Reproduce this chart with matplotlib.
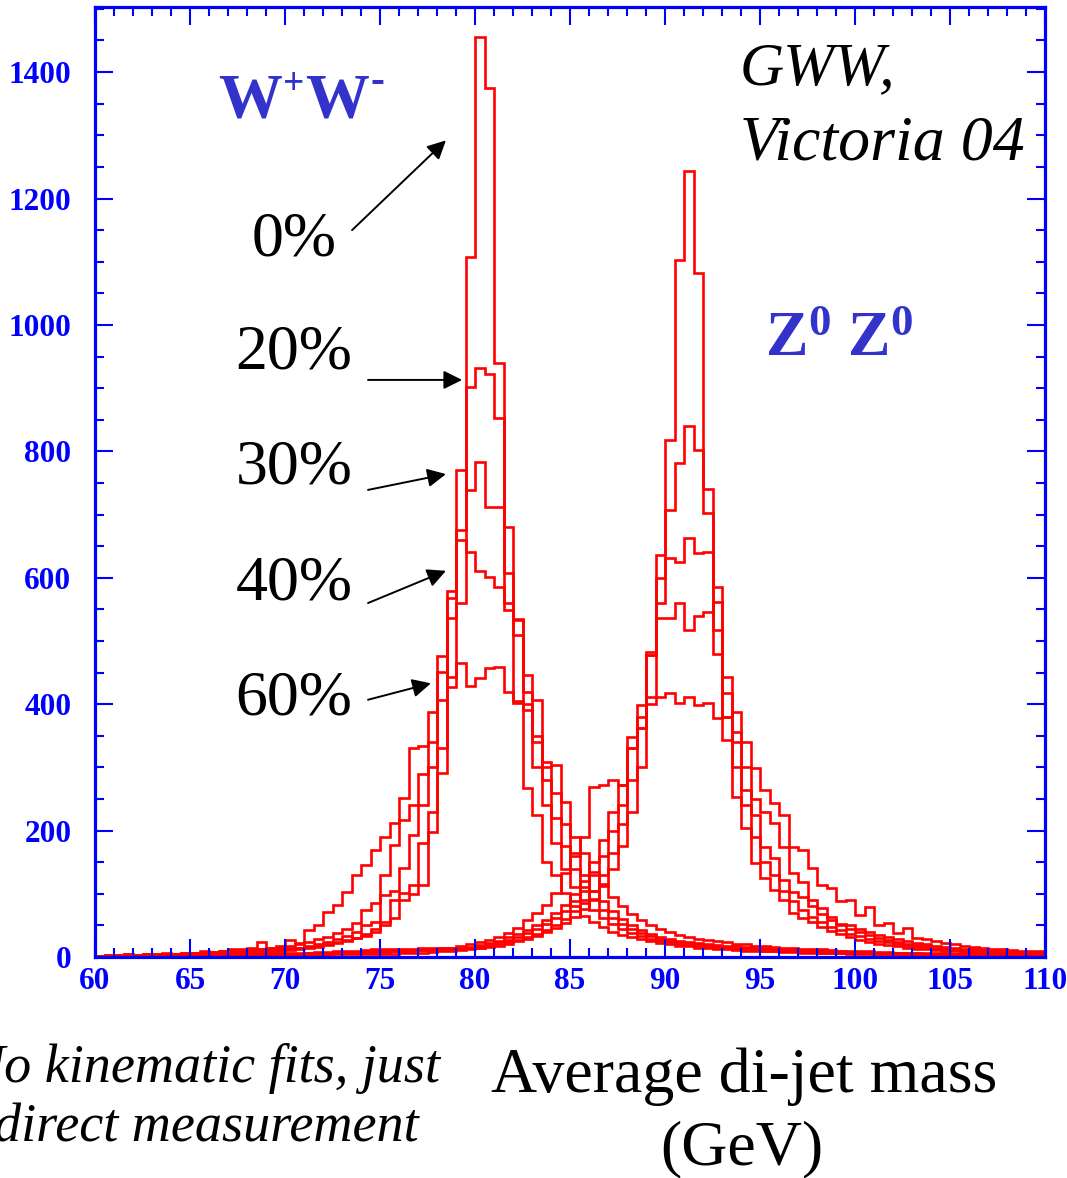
import matplotlib
matplotlib.use('Agg')
import matplotlib.pyplot as plt
import numpy as np
from matplotlib.ticker import MultipleLocator

plt.rcParams['mathtext.fontset'] = 'custom'
plt.rcParams['mathtext.rm'] = 'Liberation Serif'
plt.rcParams['mathtext.bf'] = 'Liberation Serif:bold'
plt.rcParams['mathtext.it'] = 'Liberation Serif:italic'

# ---------------- data (0.5 GeV bins from 60 to 110) ----------------
x_min, x_max = 60.0, 110.0

ww_0 = [1, 2, 1, 2, 2, 3, 2, 3, 3, 4,
        4, 5, 5, 6, 6, 7, 8, 9, 10, 12,
        13, 14, 16, 18, 21, 24, 27, 30, 34, 40,
        50, 62, 90, 100, 114, 198, 291, 427, 560, 1107,
        1456, 1375, 939, 549, 402, 267, 225, 150, 130, 101,
        80, 65, 55, 47, 40, 35, 31, 28, 25, 22,
        20, 18, 17, 15, 14, 13, 12, 11, 10, 10,
        9, 9, 8, 8, 7, 7, 6, 6, 6, 5,
        5, 5, 4, 4, 4, 4, 3, 3, 3, 3,
        3, 3, 2, 2, 2, 2, 2, 2, 2, 1]
ww_20 = [1, 2, 2, 3, 2, 3, 3, 4, 4, 5,
         5, 5, 6, 6, 7, 7, 8, 9, 9, 10,
         11, 12, 14, 16, 19, 22, 26, 30, 36, 44,
         55, 90, 101, 114, 180, 230, 330, 536, 675, 902,
         932, 922, 853, 680, 535, 400, 300, 240, 180, 140,
         110, 90, 75, 62, 52, 45, 38, 33, 29, 26,
         23, 21, 19, 17, 16, 15, 14, 13, 12, 11,
         10, 10, 9, 9, 8, 8, 7, 7, 7, 6,
         6, 6, 5, 5, 5, 4, 4, 4, 4, 3,
         3, 3, 3, 3, 2, 2, 2, 2, 2, 2]
ww_30 = [2, 2, 3, 2, 3, 4, 3, 4, 5, 5,
         6, 6, 7, 8, 8, 9, 10, 12, 13, 13,
         14, 15, 18, 20, 24, 28, 33, 40, 50, 55,
         98, 105, 141, 193, 240, 300, 407, 568, 770, 739,
         783, 712, 712, 607, 510, 446, 340, 280, 220, 175,
         140, 110, 90, 75, 62, 52, 44, 38, 33, 29,
         26, 24, 22, 20, 18, 17, 16, 15, 14, 13,
         12, 11, 11, 10, 10, 9, 9, 8, 8, 7,
         7, 7, 6, 6, 6, 5, 5, 5, 4, 4,
         4, 4, 3, 3, 3, 3, 3, 2, 2, 2]
ww_40 = [2, 3, 3, 4, 3, 4, 5, 4, 5, 6,
         6, 7, 8, 9, 9, 10, 12, 13, 15, 16,
         18, 20, 24, 28, 32, 38, 45, 54, 74, 85,
         130, 177, 217, 240, 290, 340, 451, 579, 660, 641,
         611, 601, 585, 560, 533, 420, 407, 309, 260, 210,
         165, 130, 105, 88, 72, 60, 50, 43, 37, 32,
         28, 26, 24, 22, 20, 19, 18, 17, 16, 15,
         14, 13, 12, 12, 11, 10, 10, 9, 9, 8,
         8, 8, 7, 7, 6, 6, 6, 5, 5, 5,
         5, 4, 4, 4, 4, 3, 3, 3, 3, 3]
ww_60 = [2, 3, 2, 4, 3, 5, 4, 6, 5, 7,
         7, 9, 8, 10, 12, 13, 14, 24, 15, 18,
         27, 22, 43, 51, 71, 82, 103, 130, 146, 169,
         190, 212, 251, 330, 334, 388, 476, 443, 465, 428,
         441, 457, 459, 420, 405, 390, 350, 300, 303, 245,
         190, 165, 135, 115, 95, 80, 68, 58, 50, 44,
         39, 35, 32, 29, 27, 25, 23, 21, 20, 18,
         17, 16, 15, 14, 13, 12, 12, 11, 10, 10,
         9, 9, 8, 8, 7, 7, 7, 6, 6, 6,
         5, 5, 5, 5, 4, 4, 4, 4, 3, 3]

zz_0 = [0, 1, 0, 1, 1, 1, 1, 1, 1, 1,
        1, 2, 1, 2, 2, 2, 2, 3, 2, 3,
        3, 3, 3, 4, 3, 4, 4, 4, 5, 5,
        5, 5, 6, 6, 7, 8, 9, 10, 11, 12,
        14, 16, 18, 21, 25, 29, 34, 40, 46, 54,
        64, 76, 92, 112, 140, 175, 230, 300, 400, 560,
        818, 1103, 1244, 1082, 702, 480, 343, 253, 204, 149,
        125, 106, 90, 69, 62, 55, 47, 41, 36, 31,
        27, 24, 21, 19, 17, 15, 13, 12, 11, 10,
        9, 8, 8, 7, 7, 6, 6, 5, 5, 5]
zz_20 = [1, 1, 1, 1, 1, 1, 2, 1, 2, 2,
         2, 2, 2, 3, 2, 3, 3, 3, 4, 4,
         4, 4, 5, 5, 5, 6, 6, 7, 7, 8,
         8, 9, 9, 10, 11, 11, 12, 12, 13, 14,
         15, 17, 20, 23, 27, 31, 37, 43, 50, 60,
         72, 86, 105, 130, 165, 210, 280, 362, 478, 636,
         707, 781, 840, 802, 740, 517, 380, 300, 240, 190,
         150, 130, 105, 88, 75, 64, 55, 48, 42, 37,
         33, 29, 26, 23, 20, 18, 16, 14, 13, 12,
         11, 10, 9, 9, 8, 7, 7, 6, 6, 6]
zz_30 = [1, 1, 1, 2, 1, 2, 2, 2, 2, 3,
         2, 3, 3, 3, 4, 3, 4, 4, 5, 5,
         5, 5, 6, 6, 7, 7, 8, 8, 9, 9,
         9, 10, 10, 11, 11, 12, 12, 13, 13, 15,
         17, 20, 23, 27, 32, 38, 44, 52, 61, 73,
         88, 105, 130, 160, 200, 240, 330, 380, 483, 600,
         631, 625, 663, 639, 641, 585, 418, 340, 264, 225,
         174, 156, 122, 103, 95, 80, 68, 58, 50, 45,
         40, 35, 30, 27, 24, 21, 19, 17, 15, 14,
         12, 11, 10, 9, 9, 8, 8, 7, 7, 6]
zz_40 = [1, 2, 1, 2, 2, 2, 3, 2, 3, 3,
         3, 3, 4, 4, 4, 5, 5, 5, 6, 6,
         6, 7, 7, 8, 8, 9, 10, 10, 11, 12,
         12, 12, 13, 13, 14, 14, 15, 15, 14, 16,
         19, 22, 26, 31, 36, 43, 50, 59, 70, 83,
         100, 120, 150, 185, 230, 272, 348, 399, 478, 536,
         536, 560, 517, 539, 546, 562, 443, 356, 301, 250,
         230, 212, 174, 133, 119, 90, 77, 64, 53, 50,
         45, 40, 35, 31, 28, 25, 22, 20, 18, 16,
         14, 13, 12, 11, 10, 9, 9, 8, 8, 7]
zz_60 = [1, 1, 1, 2, 1, 2, 2, 2, 2, 3,
         2, 3, 3, 3, 3, 4, 4, 4, 5, 5,
         5, 5, 6, 6, 6, 7, 7, 8, 8, 9,
         9, 10, 10, 11, 12, 13, 14, 15, 17, 20,
         24, 27, 32, 38, 46, 58, 69, 82, 101, 133,
         160, 190, 269, 272, 280, 272, 330, 362, 411, 411,
         418, 402, 411, 399, 402, 378, 380, 388, 340, 299,
         264, 243, 225, 174, 169, 141, 114, 109, 88, 90,
         66, 79, 51, 54, 38, 46, 30, 28, 25, 22,
         20, 18, 16, 15, 13, 12, 11, 10, 10, 9]

curves = [ww_0, ww_20, ww_30, ww_40, ww_60, zz_0, zz_20, zz_30, zz_40, zz_60]

smear_labels = ['0%', '20%', '30%', '40%', '60%']
# arrow tips (GeV, events), arrow tails, label centres (data coords)
arrow_tips = [(78.47, 1292), (79.32, 913), (78.47, 764), (78.47, 611), (77.68, 433)]
arrow_tails = [(73.53, 1150), (74.37, 913), (74.37, 739), (74.37, 560), (74.37, 407)]
label_pos = [(70.47, 1134), (70.47, 955), (70.47, 773), (70.47, 590), (70.47, 407)]

x_ticks = [60, 65, 70, 75, 80, 85, 90, 95, 100, 105, 110]
y_ticks = [0, 200, 400, 600, 800, 1000, 1200, 1400]

# ---------------- figure ----------------
W, H = 1067, 1178
fig = plt.figure(figsize=(W / 100, H / 100), dpi=100)
ax = fig.add_axes([95 / W, 1 - 957 / H, 950 / W, 950 / H])

edges = np.linspace(x_min, x_max, len(ww_0) + 1)
for vals in curves:
    ax.stairs(vals, edges, color='#ff0000', lw=1.9, baseline=None)

ax.set_xlim(x_min, x_max)
ax.set_ylim(0, 1503)

blue = '#0000ff'
for sp in ax.spines.values():
    sp.set_color(blue)
    sp.set_linewidth(2.3)
ax.set_xticks(x_ticks)
ax.set_yticks(y_ticks)
ax.xaxis.set_minor_locator(MultipleLocator(1))
ax.yaxis.set_minor_locator(MultipleLocator(50))
ax.tick_params(which='both', direction='in', top=True, right=True, colors=blue)
ax.tick_params(which='major', length=13, width=1.5)
ax.tick_params(which='minor', length=6.5, width=1.5)
ax.tick_params(axis='x', which='major', pad=7)
ax.tick_params(axis='y', which='major', pad=17)
for lab in ax.get_xticklabels() + ax.get_yticklabels():
    lab.set_fontfamily('Liberation Serif')
    lab.set_fontweight('bold')
    lab.set_fontsize(22.5)
    lab.set_color(blue)

serif = 'Liberation Serif'
# percentage labels and arrows
for lab, tip, tail, pos in zip(smear_labels, arrow_tips, arrow_tails, label_pos):
    ax.text(pos[0], pos[1], lab, fontsize=46, family=serif, ha='center', va='center', color='black')
    ax.annotate('', xy=tip, xytext=tail, xycoords='data', textcoords='data',
                arrowprops=dict(arrowstyle='-|>', color='black', lw=1.4, mutation_scale=28,
                                shrinkA=0, shrinkB=0))

def ftext(px, py, s, **kw):
    fig.text(px / W, 1 - py / H, s, **kw)

purple_blue = '#3333cc'
# W+ W-
ftext(218, 118, 'W', fontsize=46, family=serif, weight='bold', color=purple_blue, ha='left', va='baseline')
ftext(283, 94, '+', fontsize=27, family=serif, weight='bold', color=purple_blue, ha='left', va='baseline')
ftext(305, 118, 'W', fontsize=46, family=serif, weight='bold', color=purple_blue, ha='left', va='baseline')
ftext(370, 92, '-', fontsize=30, family=serif, weight='bold', color=purple_blue, ha='left', va='baseline')
# Z0 Z0
ftext(765, 356, r'$\mathbf{Z^{0}\ Z^{0}}$', fontsize=46, color=purple_blue, ha='left', va='baseline')

ftext(740, 84, 'GWW,', fontsize=44, family=serif, style='italic', ha='left', va='baseline')
ftext(740, 159, 'Victoria 04', fontsize=46, family=serif, style='italic', ha='left', va='baseline')

ftext(204, 1082, 'No kinematic fits, just', fontsize=39, family=serif, style='italic',
      ha='center', va='baseline')
ftext(206, 1142, 'direct measurement', fontsize=39, family=serif, style='italic',
      ha='center', va='baseline')
ftext(744, 1092, 'Average di-jet mass', fontsize=46, family=serif, ha='center', va='baseline')
ftext(742, 1164, '(GeV)', fontsize=46, family=serif, ha='center', va='baseline')

fig.savefig('out.png', dpi=100)
